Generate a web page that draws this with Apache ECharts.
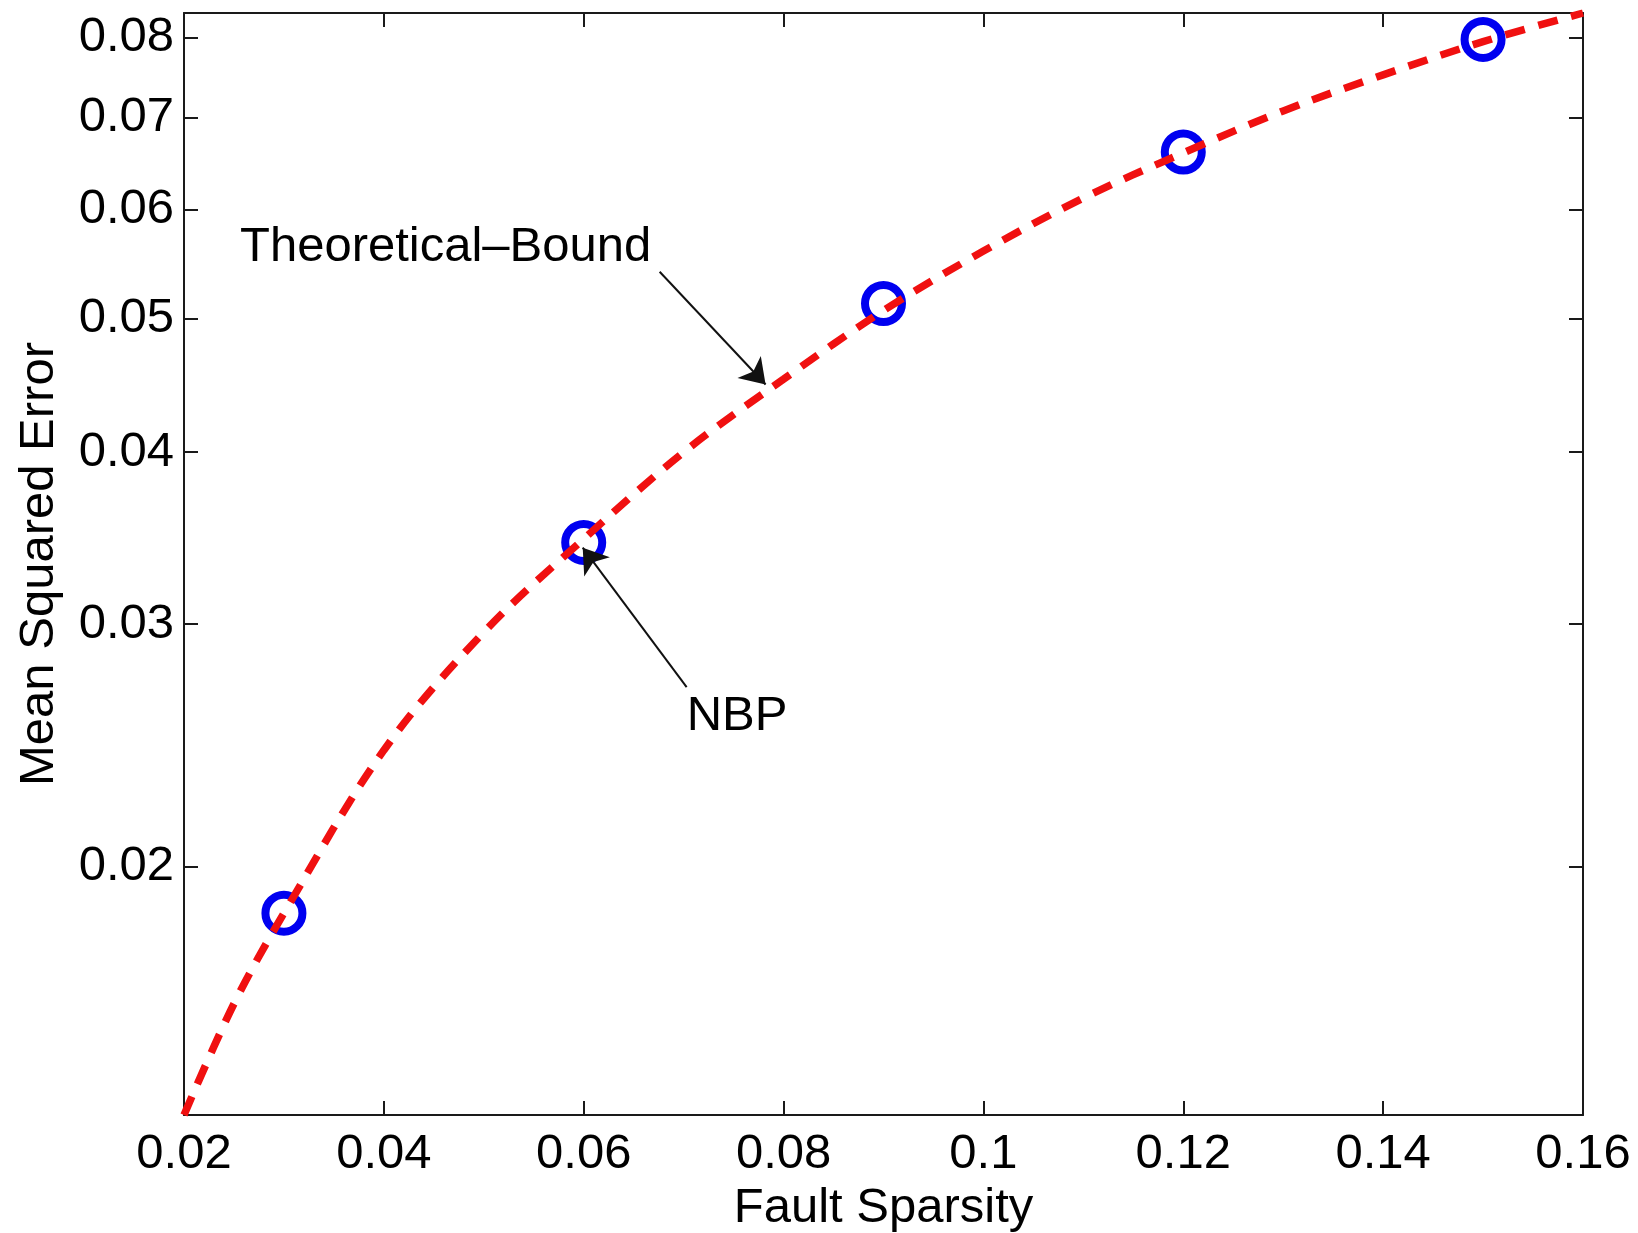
<!DOCTYPE html>
<html>
<head>
<meta charset="utf-8">
<script src="https://cdn.jsdelivr.net/npm/echarts@6/dist/echarts.min.js"></script>
<style>
html,body{margin:0;padding:0;background:#fff;}
#chart{width:1638px;height:1233px;}
</style>
</head>
<body>
<div id="chart"></div>
<script>
// ---- data ----
const boundX = [0.02, 0.025, 0.03, 0.04, 0.05, 0.06, 0.07, 0.08, 0.09, 0.10, 0.11, 0.12, 0.13, 0.14, 0.15, 0.16];
const boundY = [0.0132, 0.0159, 0.0185, 0.0243, 0.0296, 0.0346, 0.0400, 0.0452, 0.0507, 0.0560, 0.0612, 0.0660, 0.0708, 0.0752, 0.0795, 0.0834];
const nbpX = [0.03, 0.06, 0.09, 0.12, 0.15];
const nbpY = [0.0185, 0.0344, 0.0513, 0.0661, 0.0798];
const yTicks = [0.02, 0.03, 0.04, 0.05, 0.06, 0.07, 0.08];
const xRange = [0.02, 0.16];
const yRange = [0.0132, 0.0834];
const xLabel = 'Fault Sparsity';
const yLabel = 'Mean Squared Error';
const annBoundText = 'Theoretical\u2013Bound';
const annBoundTextAt = [0.0256, 0.0563];
const annBoundArrow = [[0.0676, 0.0541], [0.0782, 0.0448]];
const annNbpText = 'NBP';
const annNbpTextAt = [0.0703, 0.0257];
const annNbpArrow = [[0.0703, 0.0270], [0.0599, 0.0341]];

const FONT = 'Liberation Sans, Arial, Helvetica, sans-serif';
const FS = 49;
const AX = '#1a1a1a';

const chart = echarts.init(document.getElementById('chart'), null, {renderer: 'canvas'});

function xAxisCfg(pos, showLabel) {
  return {
    type: 'value', position: pos, min: xRange[0], max: xRange[1], interval: 0.02,
    axisLine: {show: true, onZero: false, lineStyle: {color: AX, width: 2}},
    axisTick: {show: true, inside: true, length: 14, lineStyle: {color: AX, width: 2}},
    axisLabel: {show: showLabel, color: '#000', fontFamily: FONT, fontSize: FS, margin: 15,
      formatter: v => String(+v.toFixed(2))},
    splitLine: {show: false},
    name: showLabel ? xLabel : '', nameLocation: 'middle', nameGap: 68,
    nameTextStyle: {color: '#000', fontFamily: FONT, fontSize: FS}
  };
}
function yAxisCfg(pos, showLabel) {
  return {
    type: 'log', logBase: 10, position: pos, min: yRange[0], max: yRange[1],
    axisLine: {show: true, onZero: false, lineStyle: {color: AX, width: 2}},
    axisTick: {show: true, inside: true, length: 14, customValues: yTicks, lineStyle: {color: AX, width: 2}},
    axisLabel: {show: showLabel, color: '#000', fontFamily: FONT, fontSize: FS, margin: 10,
      customValues: yTicks, formatter: v => Number(v).toFixed(2)},
    minorTick: {show: false},
    splitLine: {show: false},
    name: showLabel ? yLabel : '', nameLocation: 'middle', nameGap: 120,
    nameTextStyle: {color: '#000', fontFamily: FONT, fontSize: FS}
  };
}

const option = {
  backgroundColor: '#fff',
  animation: false,
  grid: {left: 184, top: 13, width: 1399, height: 1102, containLabel: false, outerBoundsMode: 'none'},
  xAxis: [xAxisCfg('bottom', true), xAxisCfg('top', false)],
  yAxis: [yAxisCfg('left', true), yAxisCfg('right', false)],
  series: [
    {
      name: 'NBP', type: 'scatter', xAxisIndex: 0, yAxisIndex: 0, z: 2,
      data: nbpX.map((x, i) => [x, nbpY[i]]),
      symbol: 'circle', symbolSize: 37,
      itemStyle: {color: 'rgba(0,0,0,0)', borderColor: '#0000f0', borderWidth: 8, opacity: 1}
    },
    {
      name: 'Theoretical-Bound', type: 'line', xAxisIndex: 0, yAxisIndex: 0, z: 3,
      data: boundX.map((x, i) => [x, boundY[i]]),
      showSymbol: false, smooth: 0.35, clip: true,
      lineStyle: {color: '#f01010', width: 7.5, type: [20, 14]},
      markLine: {
        silent: true, symbol: ['none', 'arrow'], symbolSize: 24, precision: 6,
        label: {show: false},
        itemStyle: {color: '#000'},
        lineStyle: {color: '#111', width: 2, type: 'solid'},
        data: [
          [{coord: annBoundArrow[0]}, {coord: annBoundArrow[1]}],
          [{coord: annNbpArrow[0]}, {coord: annNbpArrow[1]}]
        ]
      }
    }
  ]
};
chart.setOption(option);

function placeText() {
  const p1 = chart.convertToPixel({xAxisIndex: 0, yAxisIndex: 0}, annBoundTextAt);
  const p2 = chart.convertToPixel({xAxisIndex: 0, yAxisIndex: 0}, annNbpTextAt);
  chart.setOption({
    graphic: [
      {type: 'text', x: p1[0], y: p1[1], z: 10,
        style: {text: annBoundText, fill: '#000', font: FS + 'px ' + FONT, textAlign: 'left', textVerticalAlign: 'middle'}},
      {type: 'text', x: p2[0], y: p2[1], z: 10,
        style: {text: annNbpText, fill: '#000', font: FS + 'px ' + FONT, textAlign: 'left', textVerticalAlign: 'middle'}}
    ]
  });
}
placeText();
</script>
</body>
</html>
